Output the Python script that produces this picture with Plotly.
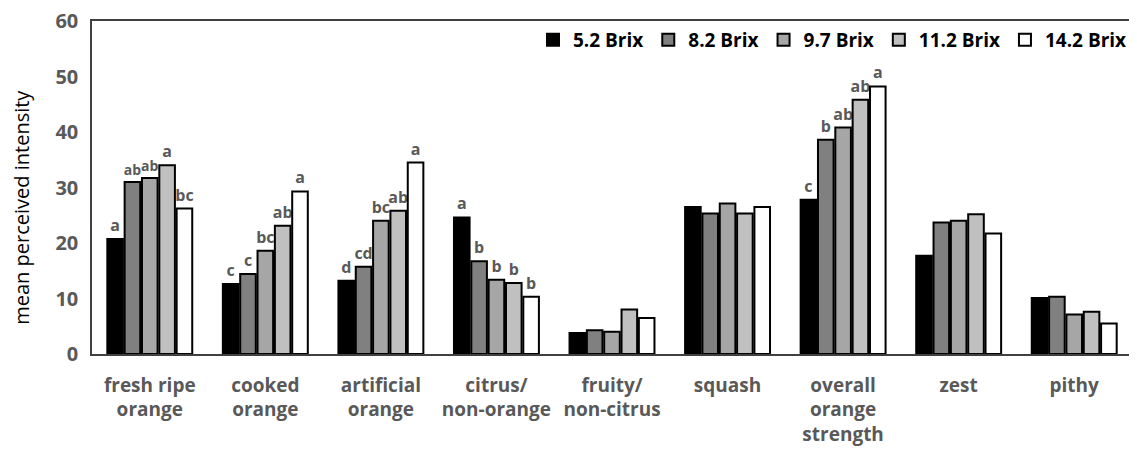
import plotly.graph_objects as go

categories = ["fresh ripe<br>orange", "cooked<br>orange", "artificial<br>orange", "citrus/<br>non-orange",
              "fruity/<br>non-citrus", "squash", "overall<br>orange<br>strength", "zest", "pithy"]
series_names = ["5.2 Brix", "8.2 Brix", "9.7 Brix", "11.2 Brix", "14.2 Brix"]

brix_5_2 = [20.7, 12.6, 13.2, 24.6, 3.8, 26.5, 27.8, 17.7, 10.1]
brix_8_2 = [31.0, 14.4, 15.7, 16.7, 4.3, 25.3, 38.6, 23.7, 10.3]
brix_9_7 = [31.7, 18.6, 24.0, 13.4, 4.0, 27.1, 40.8, 24.0, 7.1]
brix_11_2 = [34.0, 23.1, 25.8, 12.8, 8.0, 25.3, 45.8, 25.2, 7.6]
brix_14_2 = [26.2, 29.3, 34.5, 10.3, 6.5, 26.5, 48.2, 21.7, 5.5]

letters_5_2 = ["a", "c", "d", "a", "", "", "c", "", ""]
letters_8_2 = ["ab", "c", "cd", "b", "", "", "b", "", ""]
letters_9_7 = ["ab", "bc", "bc", "b", "", "", "ab", "", ""]
letters_11_2 = ["a", "ab", "ab", "b", "", "", "ab", "", ""]
letters_14_2 = ["bc", "a", "a", "b", "", "", "a", "", ""]

values = [brix_5_2, brix_8_2, brix_9_7, brix_11_2, brix_14_2]
letters = [letters_5_2, letters_8_2, letters_9_7, letters_11_2, letters_14_2]
colors = ["#000000", "#808080", "#a6a6a6", "#c0c0c0", "#ffffff"]

FONT = "'Open Sans', Lato, sans-serif"
GRAY = "#595959"

fig = go.Figure()
for i, (name, vals, lets, col) in enumerate(zip(series_names, values, letters, colors)):
    sizes = [16] * len(lets)
    if i in (1, 2):
        sizes[0] = 14  # tight neighbouring "ab" labels over fresh ripe orange
    fig.add_trace(go.Bar(
        name=name, x=categories, y=vals,
        marker=dict(color=col, line=dict(color="#000000", width=2)),
        text=lets, textposition="outside", constraintext="none", cliponaxis=False,
        textfont=dict(family=FONT, size=sizes, color=GRAY, weight="bold"),
    ))

fig.add_annotation(
    text="mean perceived intensity", textangle=-90, showarrow=False,
    xref="paper", yref="paper", x=-0.068, y=0.44, xanchor="center", yanchor="middle",
    font=dict(family=FONT, size=20, color="#000000"),
)

fig.update_layout(
    width=1129, height=454,
    margin=dict(l=84, r=5, t=13, b=108, autoexpand=False),
    paper_bgcolor="white", plot_bgcolor="white",
    barmode="group", bargap=0.25, bargroupgap=0.1,
    font=dict(family=FONT),
    showlegend=True,
    legend=dict(orientation="h", x=1.0, xanchor="right", y=1.0, yanchor="top",
                font=dict(family=FONT, size=19, color="#000000", weight="bold"),
                bgcolor="rgba(0,0,0,0)", traceorder="normal", itemwidth=30),
    xaxis=dict(showline=True, linecolor="#404040", linewidth=1.5, mirror=True,
               ticks="", showgrid=False, automargin=False, ticklabelstandoff=13,
               tickfont=dict(family=FONT, size=19, color=GRAY, weight="bold")),
    yaxis=dict(range=[0, 60], dtick=10, showline=True, linecolor="#404040", linewidth=1.5,
               mirror=True, ticks="", showgrid=False, zeroline=False, automargin=False,
               ticklabelstandoff=8, ticklabeloverflow="allow",
               tickfont=dict(family=FONT, size=20, color=GRAY, weight="bold")),
)

fig.write_html("out.html")
